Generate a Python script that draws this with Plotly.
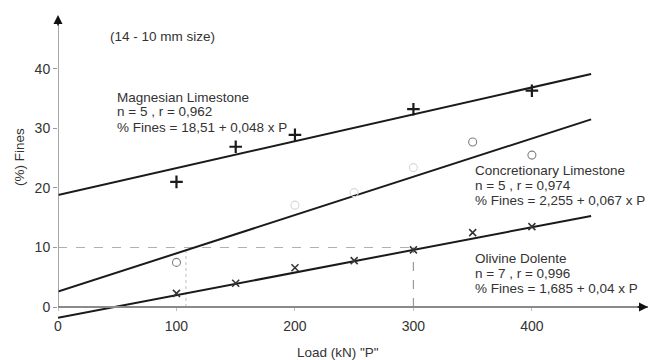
import plotly.graph_objects as go

# ---- data ----
fit_loads = [0, 450]
mag_fit = [18.8, 39.1]
conc_fit = [2.6, 31.5]
oliv_fit = [-1.8, 15.3]

mag_loads = [100, 150, 200, 300, 400]
mag_fines = [21.0, 26.9, 28.9, 33.2, 36.3]

conc_loads = [100, 350, 400]
conc_fines = [7.5, 27.7, 25.5]
conc_faint_loads = [200, 250, 300]
conc_faint_fines = [17.1, 19.2, 23.4]

oliv_loads = [100, 150, 200, 250, 300, 350, 400]
oliv_fines = [2.3, 4.0, 6.6, 7.8, 9.6, 12.5, 13.5]

ref_fines = 10
ref_load_oliv = 300
ref_load_conc = 108

x_ticks = [0, 100, 200, 300, 400]
y_ticks = [0, 10, 20, 30, 40]

X_MAX = 498
Y_MIN, Y_MAX = -3, 49

FONT = "Liberation Sans, Arial, sans-serif"
TXT = "#333333"
AX = "#8a8a8a"

fig = go.Figure()

# reference dashed lines
fig.add_trace(go.Scatter(x=[0, ref_load_oliv], y=[ref_fines, ref_fines], mode="lines",
                         line=dict(color="#b0b0b0", width=1.2, dash="dash"), hoverinfo="skip"))
fig.add_trace(go.Scatter(x=[ref_load_oliv, ref_load_oliv], y=[0, ref_fines], mode="lines",
                         line=dict(color="#9a9a9a", width=1.2, dash="dash"), hoverinfo="skip"))
fig.add_trace(go.Scatter(x=[ref_load_conc, ref_load_conc], y=[0, ref_fines], mode="lines",
                         line=dict(color="#c8c8c8", width=1.2, dash="dot"), hoverinfo="skip"))

# fitted lines
for ys in (mag_fit, conc_fit, oliv_fit):
    fig.add_trace(go.Scatter(x=fit_loads, y=ys, mode="lines",
                             line=dict(color="#1a1a1a", width=2), hoverinfo="skip"))

# markers
fig.add_trace(go.Scatter(x=mag_loads, y=mag_fines, mode="markers",
                         marker=dict(symbol="cross-thin", size=9, color="#1a1a1a",
                                     line=dict(color="#1a1a1a", width=2.2))))
fig.add_trace(go.Scatter(x=conc_loads, y=conc_fines, mode="markers",
                         marker=dict(symbol="circle-open", size=8, color="#808080",
                                     line=dict(color="#808080", width=1.1))))
fig.add_trace(go.Scatter(x=conc_faint_loads, y=conc_faint_fines, mode="markers",
                         marker=dict(symbol="circle-open", size=8, color="#d8d8d8",
                                     line=dict(color="#d8d8d8", width=1.1))))
fig.add_trace(go.Scatter(x=oliv_loads, y=oliv_fines, mode="markers",
                         marker=dict(symbol="x-thin", size=7, color="#333333",
                                     line=dict(color="#333333", width=1.5))))

# axes lines & arrows
fig.add_shape(type="line", x0=0, x1=0, y0=0, y1=Y_MAX - 1, xref="x", yref="y",
              line=dict(color=AX, width=1.5))
fig.add_annotation(x=0, y=Y_MAX, ax=0, ay=Y_MAX - 2, xref="x", yref="y", axref="x", ayref="y",
                   showarrow=True, arrowhead=2, arrowsize=1.2, arrowwidth=1.5, arrowcolor="#111", text="")
fig.add_annotation(x=X_MAX, y=0, ax=X_MAX - 10, ay=0, xref="x", yref="y", axref="x", ayref="y",
                   showarrow=True, arrowhead=2, arrowsize=1.2, arrowwidth=1.5, arrowcolor="#111", text="")

W, H = 660, 360
L, R, T, B = 58, 12, 15, 35
pw, ph = W - L - R, H - T - B
FS = 13.5

def px(xp, yp, s, size=FS, anchor="left"):
    fig.add_annotation(x=(xp - L) / pw, y=(H - B - yp) / ph, xref="paper", yref="paper",
                       text=s, showarrow=False, xanchor=anchor, yanchor="middle",
                       font=dict(family=FONT, size=size, color=TXT))

px(108, 36, "(14 - 10 mm size)")
px(115, 97, "Magnesian Limestone")
px(115, 112, "n = 5 , r = 0,962")
px(115, 127, "% Fines = 18,51 + 0,048 x P")
px(473, 170, "Concretionary Limestone")
px(473, 185, "n = 5 , r = 0,974")
px(473, 200, "% Fines = 2,255 + 0,067 x P")
px(473, 258, "Olivine Dolente")
px(473, 273, "n = 7 , r = 0,996")
px(473, 288, "% Fines = 1,685 + 0,04 x P")
px(338, 352, "Load (kN) \"P\"", anchor="center")
fig.add_annotation(x=(20 - L) / pw, y=(H - B - 157) / ph, xref="paper", yref="paper",
                   text="(%) Fines", showarrow=False, textangle=-90,
                   xanchor="center", yanchor="middle",
                   font=dict(family=FONT, size=FS, color=TXT))

y0_frac = (0 - Y_MIN) / (Y_MAX - Y_MIN)

fig.update_layout(
    width=W, height=H, margin=dict(l=L, r=R, t=T, b=B, autoexpand=False),
    paper_bgcolor="white", plot_bgcolor="white", showlegend=False,
    xaxis=dict(range=[0, X_MAX], anchor="free", position=y0_frac, showgrid=False, zeroline=False,
               automargin=False,
               showline=True, linecolor=AX, linewidth=1.5, ticks="outside", ticklen=3, tickcolor="#c0c0c0",
               tickvals=x_ticks, ticktext=[str(v) for v in x_ticks],
               tickfont=dict(family=FONT, size=14, color=TXT), ticklabelstandoff=3),
    yaxis=dict(range=[Y_MIN, Y_MAX], showgrid=False, zeroline=False, showline=False, automargin=False,
               ticks="outside", ticklen=4, tickcolor="#999999",
               tickvals=y_ticks, ticktext=[str(v) for v in y_ticks],
               tickfont=dict(family=FONT, size=14, color=TXT)),
)

fig.write_html("out.html", config={"displayModeBar": False},
               post_script="document.body.style.margin='0px';")
